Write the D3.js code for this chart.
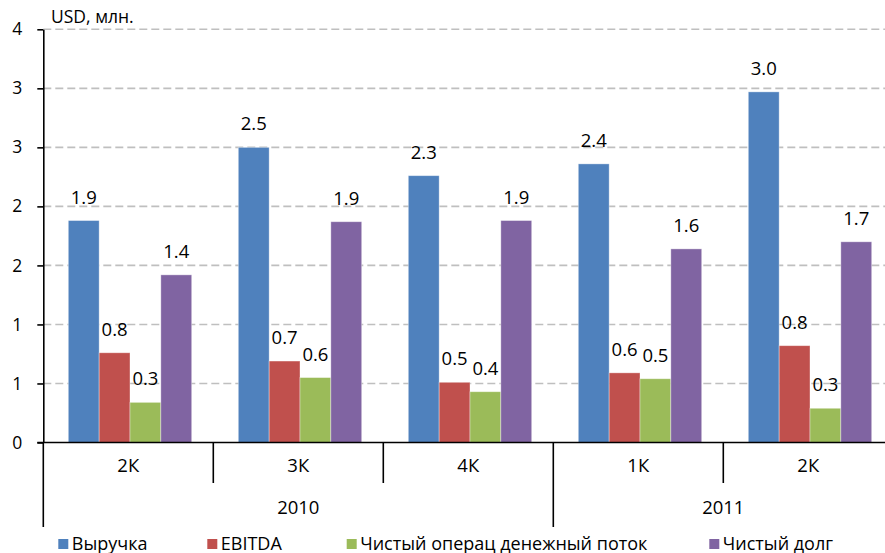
<!DOCTYPE html>
<html><head><meta charset="utf-8">
<script src="https://cdn.jsdelivr.net/npm/d3@7"></script>
<style>
html,body{margin:0;padding:0;background:#fff;}
svg{display:block;font-family:"Open Sans","Noto Sans",sans-serif;}
</style></head>
<body>
<svg id="chart" width="885" height="553"></svg>
<script>
// ---- data ----
const quarters = ["2К","3К","4К","1К","2К"];
const years = ["2010","2010","2010","2011","2011"];
const seriesNames = ["Выручка","EBITDA","Чистый операц денежный поток","Чистый долг"];
const revenue   = [1.88, 2.50, 2.26, 2.36, 2.97];
const ebitda    = [0.76, 0.69, 0.51, 0.59, 0.82];
const opCashFlow= [0.34, 0.55, 0.43, 0.54, 0.29];
const netDebt   = [1.42, 1.87, 1.88, 1.64, 1.70];
const yTickValues = [0, 0.5, 1, 1.5, 2, 2.5, 3, 3.5];
const yTickLabels = ["0","1","1","2","2","3","3","4"];
const colors = ["#4F81BD","#C0504D","#9BBB59","#8064A2"];

(function(){
const seriesValues = [revenue, ebitda, opCashFlow, netDebt];
const keys = quarters.map((q,i)=> years[i] + "-" + q);

const svg = d3.select("#chart");
const pLeft = 43.3, pRight = 893.3, pTop = 29.3, pBottom = 442.5;

const x0 = d3.scaleBand().domain(keys).range([pLeft, pRight]).padding(0);
const bw = x0.bandwidth();
const x1 = d3.scaleBand().domain(seriesNames).range([25, 25 + 123.4]).padding(0);
const y = d3.scaleLinear().domain([0, 3.5]).range([pBottom, pTop]);

// gridlines
svg.append("g").selectAll("line")
  .data(yTickValues.filter(v => v > 0))
  .join("line")
  .attr("x1", pLeft).attr("x2", 885)
  .attr("y1", d => y(d)).attr("y2", d => y(d))
  .attr("stroke", "#BFBFBF").attr("stroke-width", 1.6)
  .attr("stroke-dasharray", "8,4");

// bars
const groups = svg.append("g").selectAll("g")
  .data(keys).join("g")
  .attr("transform", d => `translate(${x0(d)},0)`);

groups.each(function(k, i){
  const g = d3.select(this);
  seriesNames.forEach((s, j) => {
    const v = seriesValues[j][i];
    g.append("rect")
      .attr("x", x1(s)).attr("width", x1.bandwidth())
      .attr("y", y(v)).attr("height", y(0) - y(v))
      .attr("fill", colors[j])
      .attr("stroke", "rgba(255,255,255,0.45)").attr("stroke-width", 0.8);
    g.append("text")
      .attr("x", x1(s) + x1.bandwidth()/2)
      .attr("y", y(v) - 17)
      .attr("text-anchor", "middle")
      .attr("font-size", 18.5).attr("fill", "#000")
      .text(d3.format(".1f")(v));
  });
});

// y axis
const yAxis = d3.axisLeft(y)
  .tickValues(yTickValues)
  .tickFormat((d,i) => yTickLabels[i])
  .tickSize(6).tickSizeOuter(0).tickPadding(15);
const ya = svg.append("g").attr("transform", `translate(${pLeft},0)`).call(yAxis);
ya.select(".domain").attr("stroke", "#000").attr("stroke-width", 1.6);
ya.selectAll(".tick line").attr("stroke", "#000").attr("stroke-width", 1.6);
ya.selectAll(".tick text").attr("font-size", 17.5).attr("fill", "#000")
  .attr("font-family", "'Open Sans','Noto Sans',sans-serif");

// baseline
svg.append("line").attr("x1", pLeft - 6).attr("x2", 885)
  .attr("y1", y(0)).attr("y2", y(0))
  .attr("stroke", "#000").attr("stroke-width", 1.6);

// category separators
const yearStart = keys.map((k,i) => i === 0 || years[i] !== years[i-1]);
svg.append("g").selectAll("line")
  .data(keys).join("line")
  .attr("x1", d => x0(d)).attr("x2", d => x0(d))
  .attr("y1", y(0)).attr("y2", (d,i) => yearStart[i] ? 527 : 483)
  .attr("stroke", "#000").attr("stroke-width", 1.6);

// quarter labels
svg.append("g").selectAll("text")
  .data(keys).join("text")
  .attr("x", d => x0(d) + bw/2).attr("y", 471.5)
  .attr("text-anchor", "middle").attr("font-size", 18.5).attr("fill", "#000")
  .text((d,i) => quarters[i]);

// year labels
const uniqueYears = Array.from(new Set(years));
svg.append("g").selectAll("text")
  .data(uniqueYears).join("text")
  .attr("x", yr => {
    const idx = keys.filter((k,i) => years[i] === yr);
    const a = x0(idx[0]);
    const b = Math.min(x0(idx[idx.length-1]) + bw, pRight);
    return (a + b) / 2;
  })
  .attr("y", 513.5)
  .attr("text-anchor", "middle").attr("font-size", 18.5).attr("fill", "#000")
  .text(d => d);

// unit label
svg.append("text").attr("x", 51).attr("y", 23)
  .attr("font-size", 17.5).attr("fill", "#000").text("USD, млн.");

// legend
const legendX = [58.3, 207.3, 346.7, 709.3];
const leg = svg.append("g").selectAll("g")
  .data(seriesNames).join("g")
  .attr("transform", (d,i) => `translate(${legendX[i]},539)`);
leg.append("rect").attr("width", 10).attr("height", 10)
  .attr("fill", (d,i) => colors[i]);
leg.append("text").attr("x", 13.5).attr("y", 10.5)
  .attr("font-size", 18).attr("fill", "#000").text(d => d);
})();
</script>
</body></html>
